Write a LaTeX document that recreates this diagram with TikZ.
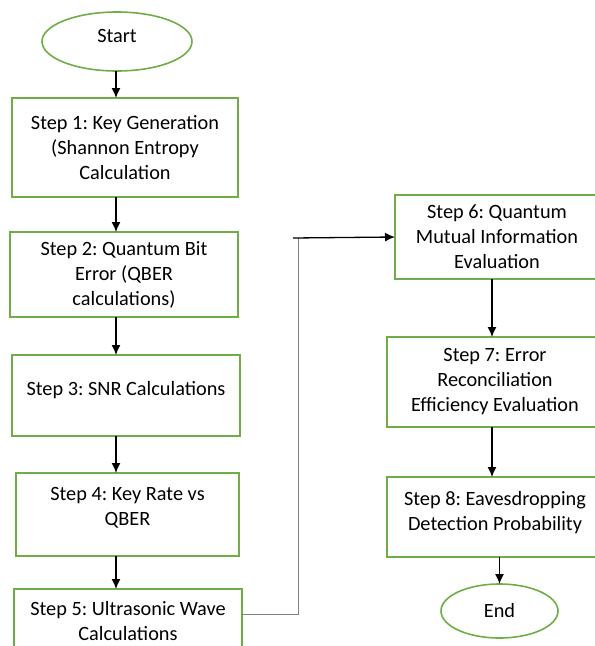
\documentclass[tikz,border=0pt]{standalone}
\usepackage{fontspec}
\setmainfont{Carlito}
\usetikzlibrary{arrows.meta,shapes.geometric}
\definecolor{boxgreen}{HTML}{70AD47}
\frenchspacing

\begin{document}
\begin{tikzpicture}[x=1pt, y=-1pt,
  every node/.style={font=\fontsize{20.3}{25}\selectfont, align=center, outer sep=0pt},
  stepbox/.style={draw=boxgreen, line width=1.6pt, rectangle, inner sep=0pt},
  termbox/.style={draw=boxgreen, line width=1.6pt, ellipse, inner sep=0pt},
  arr/.style={-{Latex[length=10pt,width=9pt]}, line width=1.3pt, black},
  link/.style={line width=0.8pt, gray}]
\useasboundingbox (0,0) rectangle (595,646);

\node[termbox, minimum width=150pt, minimum height=59pt] (start) at (117,41.5) {};
\node at (117,36) {Start};
\node[stepbox, minimum width=226pt, minimum height=99pt] (s1) at (125,147.5) {Step 1: Key Generation\\(Shannon Entropy\\Calculation};
\node[stepbox, minimum width=228pt, minimum height=85pt] (s2) at (124,274.5) {Step 2: Quantum Bit\\Error (QBER\\calculations)};
\node[stepbox, minimum width=228pt, minimum height=81pt] (s3) at (126,395.5) {Step 3: SNR Calculations\\[-10pt]\mbox{}};
\node[stepbox, minimum width=223pt, minimum height=83pt] (s4) at (127.5,514.5) {Step 4: Key Rate vs\\QBER\\[-8pt]\mbox{}};
\node[stepbox, minimum width=228pt, minimum height=88pt] (s5) at (128,633) {Step 5: Ultrasonic Wave\\Calculations\\\mbox{}};

\node[stepbox, minimum width=204pt, minimum height=84pt] (s6) at (497,237) {Step 6: Quantum\\Mutual Information\\Evaluation};
\node[stepbox, minimum width=216pt, minimum height=90pt] (s7) at (495,382) {Step 7: Error\\Reconciliation\\Efficiency Evaluation};
\node[stepbox, minimum width=216pt, minimum height=80pt] (s8) at (495,517) {Step 8: Eavesdropping\\Detection Probability\\[-12pt]\mbox{}};
\node[termbox, minimum width=117pt, minimum height=54pt] (end) at (499.5,611) {End};

\coordinate (lcol) at (116,0);
\coordinate (rcol) at (492,0);
\coordinate (bend) at (298,238);

\draw[arr] (start.south -| lcol) -- (s1.north -| lcol);
\draw[arr] (s1.south -| lcol) -- (s2.north -| lcol);
\draw[arr] (s2.south -| lcol) -- (s3.north -| lcol);
\draw[arr] (s3.south -| lcol) -- (s4.north -| lcol);
\draw[arr] (s4.south -| lcol) -- (s5.north -| lcol);

\draw[link] ([yshift=-25pt]s5.north east) -| (bend);
\draw[arr] ([xshift=-5pt]bend) -- (s6.west);

\draw[arr] (s6.south -| rcol) -- (s7.north -| rcol);
\draw[arr] (s7.south -| rcol) -- (s8.north -| rcol);
\draw[arr] (s8.south -| end) -- (end.north);
\end{tikzpicture}
\end{document}
